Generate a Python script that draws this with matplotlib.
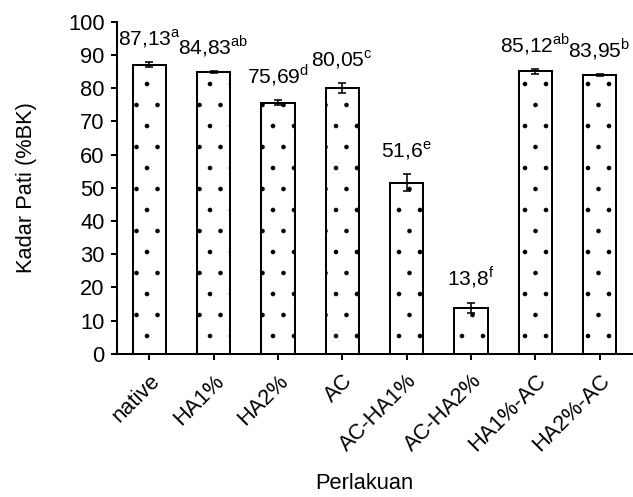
import matplotlib.pyplot as plt
import numpy as np

plt.rcParams['font.family'] = ['Liberation Sans', 'DejaVu Sans']
plt.rcParams['mathtext.fontset'] = 'custom'
plt.rcParams['mathtext.rm'] = 'Liberation Sans'
plt.rcParams['hatch.color'] = '#555555'
plt.rcParams['hatch.linewidth'] = 0.2

categories = ['native', 'HA1%', 'HA2%', 'AC', 'AC-HA1%', 'AC-HA2%', 'HA1%-AC', 'HA2%-AC']
values = [87.13, 84.83, 75.69, 80.05, 51.6, 13.8, 85.12, 83.95]
errors = [0.7, 0.3, 0.75, 1.5, 2.65, 1.6, 0.7, 0.3]
value_text = ['87,13', '84,83', '75,69', '80,05', '51,6', '13,8', '85,12', '83,95']
letters = ['a', 'ab', 'd', 'c', 'e', 'f', 'ab', 'b']

# dpi 126 so the dot hatch is as sparse as in the original
DPI = 126
fig = plt.figure(figsize=(633 / DPI, 497 / DPI), dpi=DPI)
ax = fig.add_axes([0.185, 0.288, 0.813, 0.668])

fs = 12.5
lw = 1.15

x = np.arange(len(categories))
ax.bar(x, values, 0.52, color='white', edgecolor='black', linewidth=lw, hatch='.')
ax.errorbar(x, values, yerr=errors, fmt='none', ecolor='black', elinewidth=0.9,
            capsize=2.5, capthick=0.9)

for xi, v, e, t, l in zip(x, values, errors, value_text, letters):
    ax.annotate(t + r'$^{\mathrm{' + l + '}}$', xy=(xi, v + e), xytext=(0, 7),
                textcoords='offset points', ha='center', va='bottom', fontsize=12)

ax.set_xlim(-0.5, len(categories) - 0.5)
ax.set_ylim(0, 100)
ax.set_yticks(np.arange(0, 101, 10))
ax.set_xticks(x)
ax.set_xticklabels(categories, rotation=45, ha='right', rotation_mode='anchor')
ax.tick_params(axis='both', labelsize=fs, width=lw, length=3.5, direction='out')
ax.tick_params(axis='x', pad=6)
ax.set_ylabel('Kadar Pati (%BK)', fontsize=fs)
ax.set_xlabel('Perlakuan', fontsize=fs, va='top')
ax.yaxis.set_label_coords(-0.177, 0.5)
ax.xaxis.set_label_coords(0.48, -0.36)
ax.yaxis.label.set_va('center')
for s in ['top', 'right']:
    ax.spines[s].set_visible(False)
for s in ['left', 'bottom']:
    ax.spines[s].set_linewidth(lw)

plt.savefig('out.png', dpi=DPI)
